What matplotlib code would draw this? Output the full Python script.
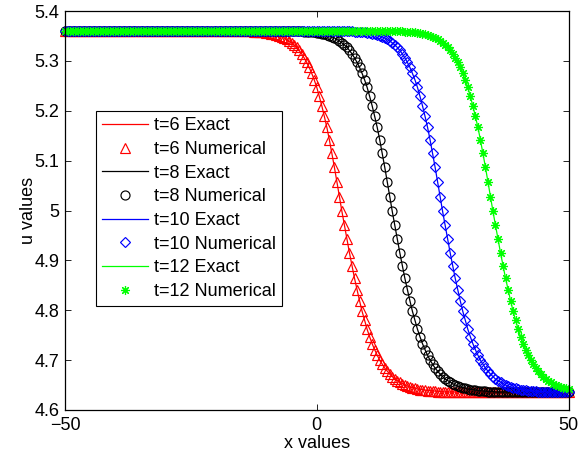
import numpy as np
import matplotlib
matplotlib.use("Agg")
import matplotlib.pyplot as plt

plt.rcParams['font.family'] = ['Liberation Sans', 'DejaVu Sans']

# x grid used by the solver (step 0.5)
x = np.arange(-50, 50.5, 0.5)

# plateau levels
u_top = 5.360
u_bot = 4.636

# shape of the wave front, from 20 units before the
# centre to 20 units after it (step 0.5)
front = [5.360, 5.359, 5.359, 5.359, 5.359, 5.358, 5.358, 5.358, 5.357, 5.357,
         5.356, 5.355, 5.354, 5.353, 5.351, 5.350, 5.348, 5.346, 5.343, 5.340,
         5.336, 5.332, 5.327, 5.321, 5.314, 5.306, 5.297, 5.287, 5.275, 5.262,
         5.247, 5.229, 5.210, 5.189, 5.167, 5.142, 5.115, 5.087, 5.058, 5.028,
         4.998,
         4.970, 4.942, 4.915, 4.889, 4.864, 4.841, 4.819, 4.798, 4.780, 4.762,
         4.747, 4.733, 4.721, 4.710, 4.700, 4.692, 4.684, 4.678, 4.672, 4.667,
         4.662, 4.659, 4.656, 4.653, 4.650, 4.648, 4.646, 4.645, 4.644, 4.642,
         4.641, 4.641, 4.640, 4.639, 4.639, 4.638, 4.638, 4.637, 4.637, 4.637]

# wave centre for each time (x where u ~ 5)
times = [6, 8, 10, 12]
centres = [5, 15, 25, 35]
colors = ['r', 'k', 'b', '#00ff00']
markers = ['^', 'o', 'D', (8, 2, 0)]
msizes = [6.5, 6.5, 5.5, 6.5]

fig = plt.figure(figsize=(5.84, 4.58), dpi=100)
ax = fig.add_axes([65/584, 48/458, 503.5/584, 399/458])

for t, c, col, m, ms in zip(times, centres, colors, markers, msizes):
    n_top = int((c - 20 + 50) / 0.5)
    u = [u_top] * n_top + front
    u = u + [u_bot] * max(0, len(x) - len(u))
    u = np.array(u[:len(x)])
    ax.plot(x, u, '-', color=col, lw=0.9, label='t=%d Exact' % t)
    ax.plot(x, u, linestyle='none', marker=m, color=col, ms=ms,
            mfc='none', mec=col, mew=0.85, clip_on=False,
            label='t=%d Numerical' % t)

ax.set_xlim(-50, 50)
ax.set_ylim(4.6, 5.4)
ax.set_xticks([-50, 0, 50])
ax.set_xticklabels(['\u221250', '0', '50'])
yt = [4.6, 4.7, 4.8, 4.9, 5.0, 5.1, 5.2, 5.3, 5.4]
ax.set_yticks(yt)
ax.set_yticklabels(['4.6', '4.7', '4.8', '4.9', '5', '5.1', '5.2', '5.3', '5.4'])
ax.tick_params(direction='in', top=True, right=True, length=4, width=0.6,
               labelsize=13, pad=4)
ax.tick_params(axis='x', pad=5)
for s in ax.spines.values():
    s.set_linewidth(0.9)

ax.set_xlabel('x values', fontsize=13, labelpad=1)
ax.set_ylabel('u values', fontsize=13, labelpad=-2)

leg = ax.legend(loc='upper left', bbox_to_anchor=(31/503.5, 299/399),
                borderaxespad=0, fontsize=13, numpoints=1, fancybox=False,
                framealpha=1, edgecolor='k', handlelength=2.55,
                handletextpad=0.3, labelspacing=0.37, borderpad=0.35)
leg.get_frame().set_linewidth(0.8)

fig.savefig('out.png', dpi=100)
